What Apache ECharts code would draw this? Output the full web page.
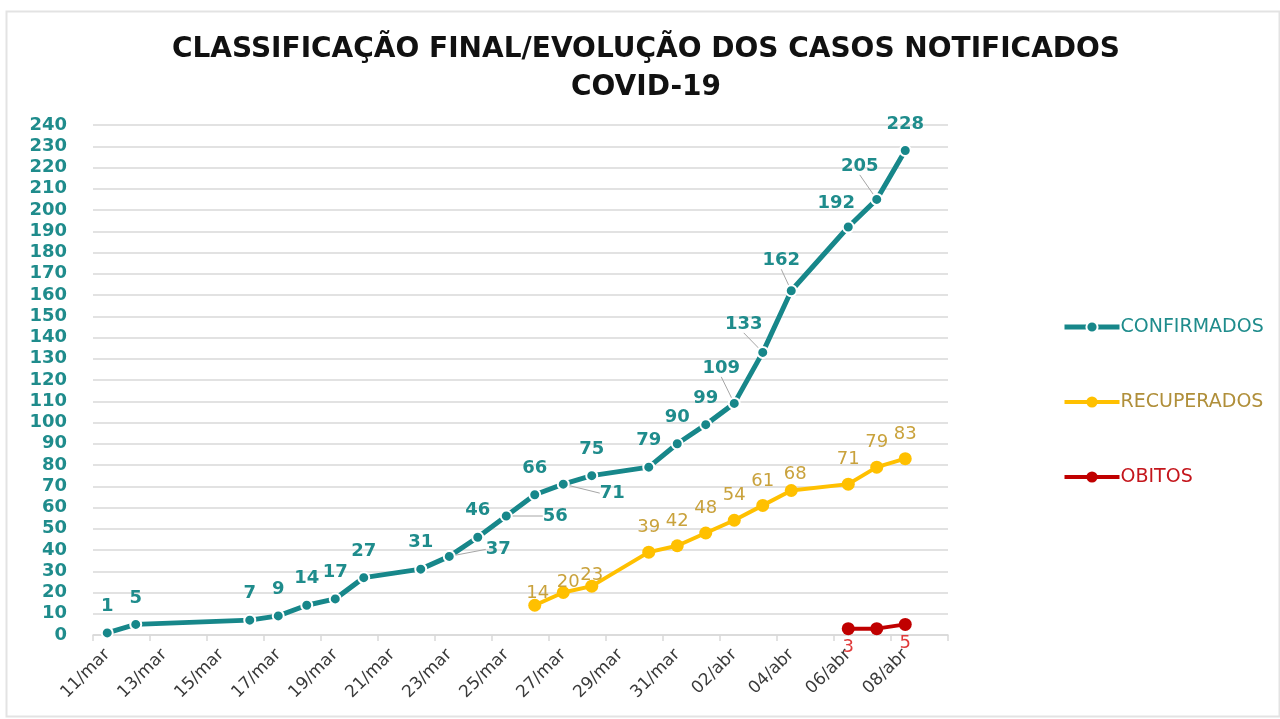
<!DOCTYPE html>
<html>
<head>
<meta charset="utf-8">
<title>COVID-19</title>
<script src="https://cdn.jsdelivr.net/npm/echarts@6/dist/echarts.min.js"></script>
<style>
  html, body { margin: 0; padding: 0; background: #fff; }
  #main { width: 1280px; height: 719px; }
</style>
</head>
<body>
<div id="main"></div>
<script>
// dias (o ultimo, 09/abr, fica vazio so para completar o eixo)
const dias = ['11/mar','12/mar','13/mar','14/mar','15/mar','16/mar','17/mar','18/mar','19/mar','20/mar',
  '21/mar','22/mar','23/mar','24/mar','25/mar','26/mar','27/mar','28/mar','29/mar','30/mar',
  '31/mar','01/abr','02/abr','03/abr','04/abr','05/abr','06/abr','07/abr','08/abr','09/abr'];

const confirmados = [1, 5, null, null, null, 7, 9, 14, 17, 27,
  null, 31, 37, 46, 56, 66, 71, 75, null, 79,
  90, 99, 109, 133, 162, null, 192, 205, 228, null];

const recuperados = [null, null, null, null, null, null, null, null, null, null,
  null, null, null, null, null, 14, 20, 23, null, 39,
  42, 48, 54, 61, 68, null, 71, 79, 83, null];

const obitos = [null, null, null, null, null, null, null, null, null, null,
  null, null, null, null, null, null, null, null, null, null,
  null, null, null, null, null, null, 3, 3, 5, null];

const TEAL = '#17878a';
const TEAL_TXT = '#1f8c8c';
const GOLD = '#ffc000';
const GOLD_TXT = '#c9a23c';
const RED = '#c00000';
const RED_TXT = '#e03a3a';
const FONT = 'DejaVu Sans';

// rotulos que o excel jogou para a direita
const labelRight = [12, 14, 16];
// deslocamento (dx, dy) de cada rotulo movido
const labelMoved = {
  12: [0, -7],
  14: [0, 0],
  16: [0, 9],
  22: [-13, -9],
  23: [-19, -2],
  24: [-10, -4],
  26: [-12, 3],
  27: [-17, -7]
};
const semGuia = [26];

const labelRec = {
  15: { offset: [3, 13] },
  16: { offset: [5, 14] },
  17: { offset: [0, 14] },
  24: { offset: [4, 8] }
};

function buildConf() {
  return confirmados.map(function (v, i) {
    if (v == null) return null;
    const item = { value: v };
    if (labelRight.indexOf(i) !== -1) {
      item.label = { position: 'right', distance: 30 };
    }
    if (labelMoved[i] && semGuia.indexOf(i) === -1) {
      item.labelLine = { show: true, lineStyle: { color: '#a6a6a6', width: 1 } };
    }
    return item;
  });
}

function buildRec() {
  return recuperados.map(function (v, i) {
    if (v == null) return null;
    if (labelRec[i]) return { value: v, label: labelRec[i] };
    return v;
  });
}

function buildObitos() {
  return obitos.map(function (v, i) {
    if (v == null) return null;
    if (i === 27) return { value: v, label: { show: false } };
    return v;
  });
}

let chart = echarts.init(document.getElementById('main'));

let option = {
  backgroundColor: '#ffffff',
  animation: false,
  title: {
    text: 'CLASSIFICAÇÃO FINAL/EVOLUÇÃO DOS CASOS NOTIFICADOS\nCOVID-19',
    left: 641,
    textAlign: 'center',
    top: 26,
    textStyle: {
      fontFamily: FONT,
      fontWeight: 'bold',
      fontSize: 28,
      lineHeight: 38,
      color: '#111111'
    }
  },
  legend: {
    orient: 'vertical',
    left: 1057,
    top: 311,
    itemWidth: 55,
    itemHeight: 14,
    itemGap: 53,
    textStyle: { fontFamily: FONT, fontSize: 19, lineHeight: 22, padding: [0, 0, 0, -4] },
    data: [
      { name: 'CONFIRMADOS', textStyle: { color: TEAL_TXT }, lineStyle: { width: 5 } },
      { name: 'RECUPERADOS', textStyle: { color: '#b08f3a' }, lineStyle: { width: 4 } },
      { name: 'OBITOS', textStyle: { color: '#c4161c' }, lineStyle: { width: 4 } }
    ]
  },
  grid: {
    left: 93,
    right: 332,
    top: 125,
    bottom: 84,
    containLabel: false
  },
  xAxis: {
    type: 'category',
    data: dias,
    boundaryGap: true,
    axisLine: { lineStyle: { color: '#d9d9d9', width: 1.5 } },
    axisTick: { show: true, interval: 1, length: 6, lineStyle: { color: '#d9d9d9', width: 1.5 } },
    axisLabel: {
      interval: 1,
      rotate: 45,
      margin: 17,
      fontFamily: FONT,
      fontSize: 17,
      color: '#3a3a3a'
    },
    splitLine: { show: false }
  },
  yAxis: {
    type: 'value',
    min: 0,
    max: 240,
    interval: 10,
    axisLine: { show: false },
    axisTick: { show: false },
    axisLabel: {
      margin: 26,
      fontFamily: FONT,
      fontWeight: 'bold',
      fontSize: 18,
      color: TEAL_TXT
    },
    splitLine: { lineStyle: { color: '#d9d9d9', width: 1.5 } }
  },
  series: [
    {
      name: 'CONFIRMADOS',
      type: 'line',
      data: buildConf(),
      connectNulls: true,
      symbol: 'circle',
      symbolSize: 11,
      color: TEAL,
      lineStyle: { width: 5, color: TEAL },
      itemStyle: { color: TEAL, borderColor: '#ffffff', borderWidth: 2 },
      label: {
        show: true,
        position: 'top',
        distance: 11,
        fontFamily: FONT,
        fontWeight: 'bold',
        fontSize: 18,
        color: TEAL_TXT
      },
      labelLayout: function (params) {
        const m = labelMoved[params.dataIndex];
        if (!m) return {};
        return { dx: m[0], dy: m[1] };
      },
      z: 3
    },
    {
      name: 'RECUPERADOS',
      type: 'line',
      data: buildRec(),
      connectNulls: true,
      symbol: 'circle',
      symbolSize: 13,
      color: GOLD,
      lineStyle: { width: 4, color: GOLD },
      itemStyle: { color: GOLD },
      label: {
        show: true,
        position: 'top',
        distance: 9,
        fontFamily: FONT,
        fontSize: 18,
        color: GOLD_TXT
      },
      z: 2
    },
    {
      name: 'OBITOS',
      type: 'line',
      data: buildObitos(),
      connectNulls: true,
      symbol: 'circle',
      symbolSize: 13,
      color: RED,
      lineStyle: { width: 4, color: RED },
      itemStyle: { color: RED },
      label: {
        show: true,
        position: 'bottom',
        distance: 3,
        fontFamily: FONT,
        fontSize: 18,
        color: RED_TXT
      },
      z: 2
    }
  ],
  graphic: [
    {
      type: 'rect',
      left: 4,
      top: 9,
      shape: { width: 1273, height: 705 },
      style: { fill: 'none', stroke: '#e3e3e3', lineWidth: 2 },
      silent: true,
      z: -10
    }
  ]
};

chart.setOption(option);
</script>
</body>
</html>
